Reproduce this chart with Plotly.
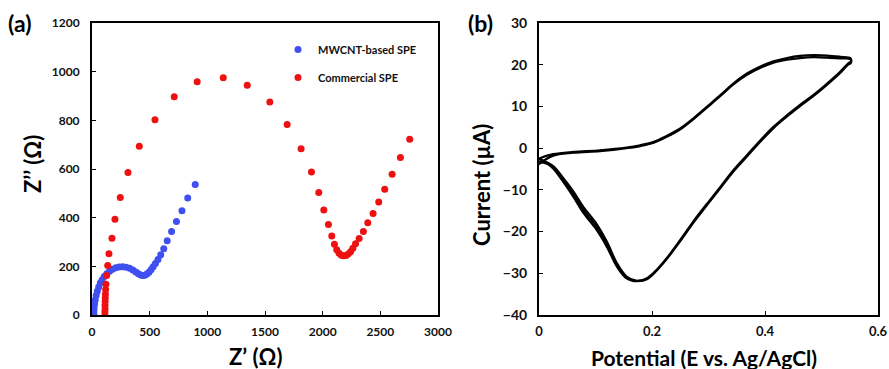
import plotly.graph_objects as go

# ---------------- Data ----------------
# (a) Nyquist plot
mwcnt_zre = [17, 15, 16, 18, 22, 28, 36, 46, 58, 72, 88, 106, 128, 152, 178, 206, 236, 266, 296, 326,
             354, 380, 402, 422, 440, 458, 476, 494, 512, 530, 550, 572, 596, 622, 652, 690, 732, 780, 830, 895]
mwcnt_zim = [0, 8, 18, 30, 45, 62, 80, 98, 115, 131, 145, 158, 170, 180, 188, 194, 197, 198, 196, 192,
             185, 177, 170, 164, 162, 163, 168, 176, 186, 198, 212, 228, 248, 272, 305, 343, 384, 428, 481, 536]

comm_zre = [112, 112, 113, 113, 114, 115, 116, 118, 121, 127, 136, 147, 173, 199, 245, 312, 410, 546, 713, 912,
            1138, 1346, 1542, 1692, 1813, 1903, 1966, 2010, 2050, 2079, 2102, 2122, 2142, 2162, 2182, 2202, 2222,
            2242, 2262, 2285, 2316, 2353, 2391, 2437, 2486, 2538, 2602, 2674, 2755]
comm_zim = [0, 12, 25, 40, 55, 70, 85, 105, 126, 162, 203, 252, 315, 394, 483, 586, 694, 802, 897, 959,
            975, 944, 875, 783, 683, 588, 503, 431, 372, 325, 291, 268, 254, 246, 243, 245, 251,
            260, 274, 293, 314, 343, 379, 417, 464, 517, 578, 647, 722]

# (b) Cyclic voltammograms (overlapping cycles)
cv_potential_1 = [0.0, 0.025, 0.061, 0.108, 0.155, 0.179, 0.203, 0.226, 0.25, 0.273, 0.297, 0.321, 0.344,
                  0.368, 0.392, 0.415, 0.439, 0.462, 0.486, 0.51, 0.533, 0.551, 0.552, 0.547, 0.533, 0.51,
                  0.486, 0.462, 0.439, 0.415, 0.392, 0.368, 0.344, 0.321, 0.297, 0.273, 0.25, 0.226, 0.208,
                  0.191, 0.173, 0.155, 0.138, 0.12, 0.102, 0.079, 0.061, 0.043, 0.025, 0.008, 0.0]
cv_current_1 = [-2.5, -1.45, -0.9, -0.5, 0.15, 0.7, 1.5, 2.9, 4.7, 7.1, 9.9, 12.7, 15.5,
                17.9, 19.6, 20.8, 21.6, 22.1, 22.3, 22.2, 21.9, 21.6, 20.8, 20.3, 18.3, 15.5,
                12.8, 10.4, 7.9, 5.1, 1.9, -1.7, -5.3, -9.3, -13.4, -17.6, -22.0, -26.4, -29.2,
                -31.2, -31.9, -31.2, -28.4, -23.6, -19.6, -15.6, -11.7, -8.1, -4.9, -3.0, -2.7]

cv_potential_2 = [0.0, 0.025, 0.061, 0.108, 0.155, 0.179, 0.203, 0.226, 0.25, 0.273, 0.297, 0.321, 0.344,
                  0.368, 0.392, 0.415, 0.439, 0.462, 0.486, 0.51, 0.533, 0.551, 0.552, 0.547, 0.533, 0.51,
                  0.486, 0.462, 0.439, 0.415, 0.392, 0.368, 0.344, 0.321, 0.297, 0.273, 0.25, 0.226, 0.208,
                  0.191, 0.173, 0.155, 0.138, 0.12, 0.102, 0.079, 0.061, 0.043, 0.025, 0.008, 0.0]
cv_current_2 = [-3.8, -1.8, -1.1, -0.7, 0.0, 0.5, 1.3, 2.7, 4.5, 6.9, 9.7, 12.5, 15.3,
                17.6, 19.3, 20.5, 21.2, 21.6, 21.8, 21.7, 21.5, 21.3, 20.4, 20.0, 18.0, 15.2,
                12.5, 10.1, 7.6, 4.8, 1.6, -2.0, -5.6, -9.6, -13.7, -17.9, -22.3, -26.6, -29.4,
                -31.4, -31.8, -30.8, -27.6, -22.4, -18.2, -14.2, -10.4, -7.2, -4.3, -3.3, -3.8]

cv_potential_3 = [0.0, 0.025, 0.043, 0.061, 0.079, 0.102, 0.12, 0.138, 0.155]
cv_current_3 = [-3.2, -4.5, -7.6, -11.0, -14.9, -18.9, -23.0, -28.0, -31.0]

# ---------------- Figure ----------------
FONT = "Lato"
fig = go.Figure()

fig.add_trace(go.Scatter(x=mwcnt_zre, y=mwcnt_zim, mode="markers", name="MWCNT-based SPE",
                         marker=dict(color="#3f4ff0", size=7), xaxis="x", yaxis="y", legend="legend"))
fig.add_trace(go.Scatter(x=comm_zre, y=comm_zim, mode="markers", name="Commercial SPE",
                         marker=dict(color="#ee1111", size=7), xaxis="x", yaxis="y", legend="legend2"))

for px, cy in [(cv_potential_1, cv_current_1), (cv_potential_2, cv_current_2), (cv_potential_3, cv_current_3)]:
    fig.add_trace(go.Scatter(x=px, y=cy, mode="lines", line=dict(color="black", width=2.2, shape="spline"),
                             showlegend=False, xaxis="x2", yaxis="y2"))

W, H = 889, 369


def axis_style(size, standoff):
    return dict(showline=True, linecolor="black", linewidth=2, mirror=True, showgrid=False,
                zeroline=False, ticks="inside", ticklen=4, tickwidth=1, tickcolor="black", automargin=False,
                ticklabelstandoff=standoff,
                tickfont=dict(family=FONT, size=size, color="#111", weight="bold"))


title_font = dict(family=FONT, size=22, color="black", weight="bold")

fig.update_layout(
    template="none",
    width=W, height=H,
    margin=dict(l=0, r=0, t=0, b=0, pad=0),
    paper_bgcolor="white", plot_bgcolor="white",
    xaxis=dict(domain=[92 / W, 438 / W], range=[0, 3000], tickvals=[0, 500, 1000, 1500, 2000, 2500, 3000],
               anchor="y", **axis_style(12, 5)),
    yaxis=dict(domain=[1 - 315 / H, 1 - 23 / H], range=[0, 1200],
               tickvals=[0, 200, 400, 600, 800, 1000, 1200], anchor="x", **axis_style(12, 8)),
    xaxis2=dict(domain=[539 / W, 878 / W], range=[0, 0.6], tickvals=[0, 0.2, 0.4, 0.6],
                ticktext=["0", "0.2", "0.4", "0.6"], anchor="y2", **axis_style(13, 3)),
    yaxis2=dict(domain=[1 - 315 / H, 1 - 23 / H], range=[-40, 30],
                tickvals=[-40, -30, -20, -10, 0, 10, 20, 30], anchor="x2", **axis_style(14, 7)),
    legend=dict(x=278 / W, y=1 - 35 / H, xanchor="left", yanchor="top", bgcolor="rgba(0,0,0,0)",
                font=dict(family=FONT, size=11, color="#111", weight="bold")),
    legend2=dict(x=278 / W, y=1 - 63 / H, xanchor="left", yanchor="top", bgcolor="rgba(0,0,0,0)",
                 font=dict(family=FONT, size=11, color="#111", weight="bold")),
    annotations=[
        dict(text="(a)", x=6 / W, y=1 - 23 / H, xref="paper", yref="paper", xanchor="left", yanchor="middle",
             showarrow=False, font=dict(family=FONT, size=23, color="black", weight="bold")),
        dict(text="(b)", x=466 / W, y=1 - 23 / H, xref="paper", yref="paper", xanchor="left", yanchor="middle",
             showarrow=False, font=dict(family=FONT, size=23, color="black", weight="bold")),
        dict(text="Z’’ (Ω)", x=32 / W, y=1 - 164 / H, xref="paper", yref="paper", textangle=-90,
             xanchor="center", yanchor="middle", showarrow=False, font=title_font),
        dict(text="Z’ (Ω)", x=255 / W, y=1 - 356 / H, xref="paper", yref="paper",
             xanchor="center", yanchor="middle", showarrow=False, font=title_font),
        dict(text="Current (µA)", x=482 / W, y=1 - 185 / H, xref="paper", yref="paper", textangle=-90,
             xanchor="center", yanchor="middle", showarrow=False, font=title_font),
        dict(text="Potential (E vs. Ag/AgCl)", x=704 / W, y=1 - 357 / H, xref="paper", yref="paper",
             xanchor="center", yanchor="middle", showarrow=False, font=dict(family=FONT, size=21, color="black", weight="bold")),
    ],
)

fig.write_html("out.html")
